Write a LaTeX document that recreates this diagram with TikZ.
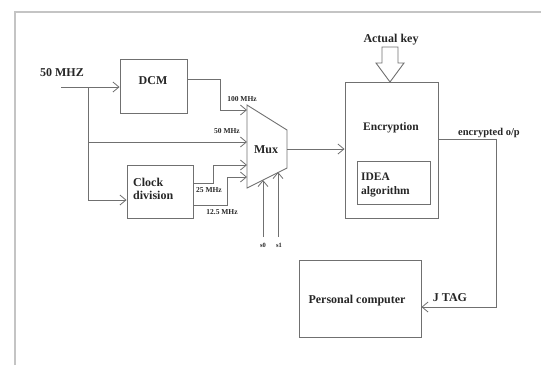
\documentclass[tikz,border=0pt]{standalone}
\usepackage{fontspec}
\setmainfont{Liberation Serif}
\usetikzlibrary{arrows.meta}
\definecolor{ln}{HTML}{707070}
\definecolor{fr}{HTML}{C4C4C4}
\tikzset{
  blk/.style={draw=ln, line width=0.9pt, inner sep=0pt},
  wire/.style={draw=ln, line width=0.9pt},
  arr/.style={wire, -{Straight Barb[length=6pt,width=10pt,line width=0.8pt]}},
  lbl/.style={font=\fontsize{12}{13}\selectfont\bfseries, text=black!85, inner sep=0pt},
  sml/.style={font=\fontsize{7.5}{8}\selectfont\bfseries, text=black!85, inner sep=0pt},
  tiny/.style={font=\fontsize{6.5}{7}\selectfont\bfseries, text=black!85, inner sep=0pt}
}
\begin{document}
\begin{tikzpicture}[x=1pt,y=-1pt]
\useasboundingbox (0,0) rectangle (541,365);
% frame
\draw[fr, line width=2pt] (15,365) -- (15,11.5) -- (541,11.5);

% blocks
\node[blk, minimum width=67pt, minimum height=54pt] (dcm) at (153.5,86) {};
\node[lbl] at (153,81) {DCM};
\node[blk, minimum width=66pt, minimum height=53pt] (clk) at (160,191.5) {};
\node[lbl, align=left, anchor=west, font=\fontsize{12}{13.5}\selectfont\bfseries] at (133,189) {Clock\\division};

% mux trapezoid
\coordinate (m1) at (247,105);
\coordinate (m2) at (287,130);
\coordinate (m3) at (287,168);
\coordinate (m4) at (247,188);
\draw[wire] (m1) -- (m2) -- (m3) -- (m4) -- cycle;
\node[lbl] (mux) at (266,150) {Mux};

% encryption
\node[blk, minimum width=93pt, minimum height=136pt] (enc) at (391.5,150) {};
\node[lbl, font=\fontsize{11.5}{12}\selectfont\bfseries] at (391,128) {Encryption};
\node[blk, minimum width=73pt, minimum height=43pt] (idea) at (393.5,182.5) {};
\node[lbl, align=left, anchor=west, font=\fontsize{11.5}{14}\selectfont\bfseries] at (361,185) {IDEA\\algorithm};

% PC
\node[blk, minimum width=122pt, minimum height=77pt] (pc) at (360,298.5) {};
\node[lbl] at (357,301) {Personal computer};

% input
\node[lbl] (in) at (62,73) {50 MHZ};
\coordinate (ist) at (61,87);
\coordinate (br) at (88,87);
\draw[arr] (ist) -- (dcm.west |- ist);
\draw[wire] (br) -- (88,200);
\draw[arr] (88,200) -- (clk.west |- 0,200);
\draw[arr] (88,142) -- (247,142);
\node[sml] at (227,131) {50 MHz};

% DCM -> mux
\draw[arr] (dcm.east |- 0,79) -- (220,79) -- (220,110) -- (247,110);
\node[sml] at (242,99) {100 MHz};

% clock division -> mux
\draw[arr] (clk.east |- 0,183) -- (213,183) -- (213,165) -- (247,165);
\draw[arr] (clk.east |- 0,205) -- (227,205) -- (227,177) -- (247,177);
\node[sml] at (209,190) {25 MHz};
\node[sml] at (222,212) {12.5 MHz};

% selects
\coordinate (s0b) at (263,237);
\coordinate (s1b) at (278,237);
\draw[arr] (s0b) -- (263,180);
\draw[arr] (s1b) -- (278,172);
\node[tiny] at (263,245) {s0};
\node[tiny] at (279,245) {s1};

% mux -> enc
\draw[arr] (287,149) -- (enc.west |- 0,149);

% actual key hollow arrow
\node[lbl] at (391,40) {Actual key};
\draw[wire, fill=white] (382,47) -- (398,47) -- (398,63) -- (404,63) -- (390,82) -- (376,63) -- (382,63) -- cycle;

% output
\node[lbl, font=\fontsize{10.5}{11}\selectfont\bfseries] at (489,133) {encrypted o/p};
\draw[arr] (enc.east |- 0,139) -- (496,139) -- (496,307) -- (pc.east |- 0,307);
\node[lbl] at (450,298) {J TAG};
\end{tikzpicture}
\end{document}
